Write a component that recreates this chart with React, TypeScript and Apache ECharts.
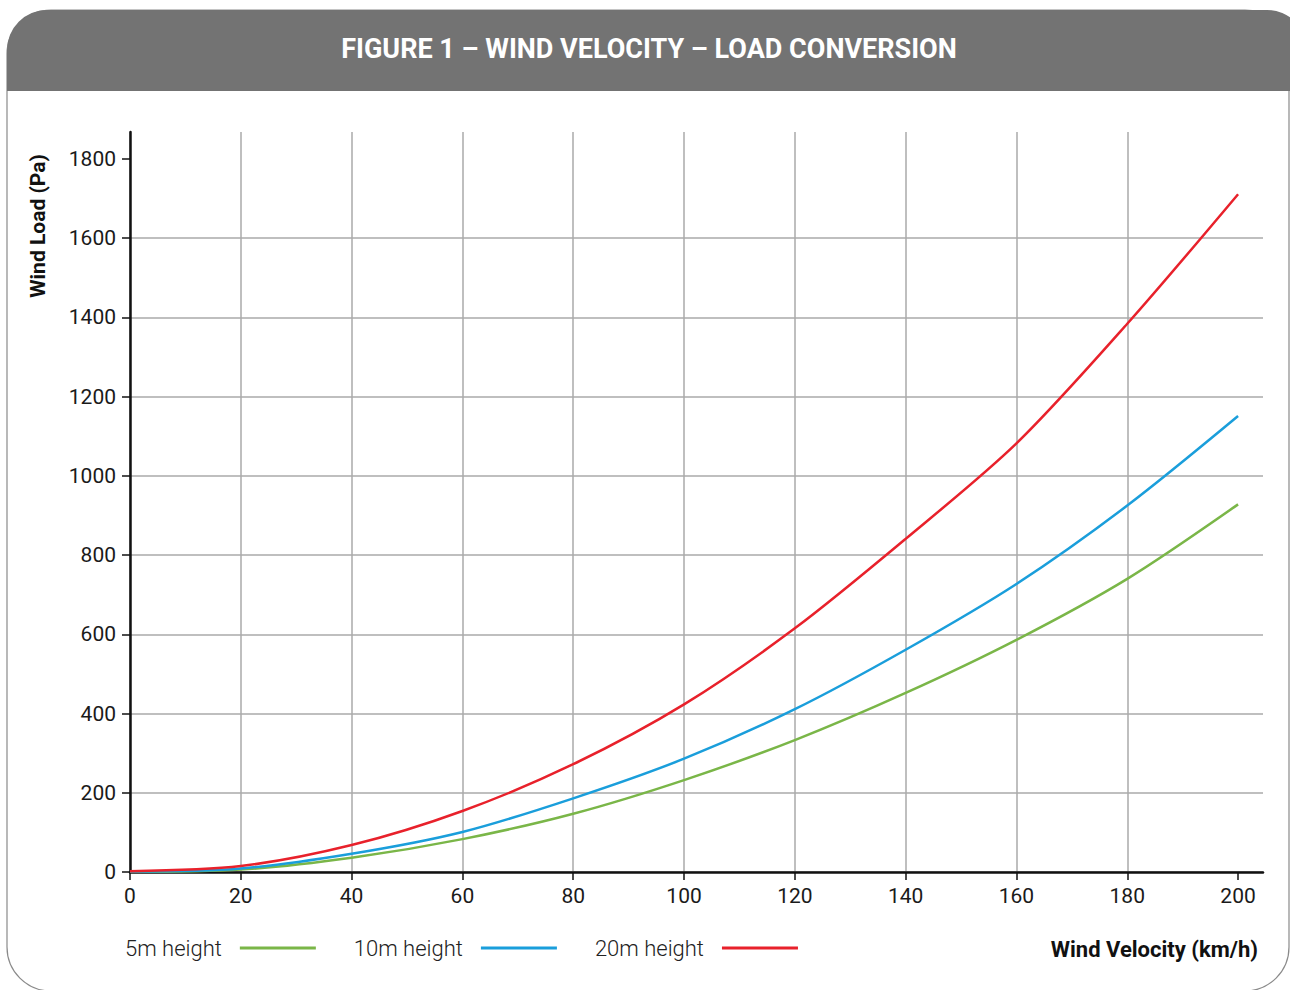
import React, { useEffect, useRef } from "react";
import * as echarts from "echarts";

const velocities = [0, 20, 40, 60, 80, 100, 120, 140, 160, 180, 200];
const load5m = [0, 6, 36, 83, 147, 232, 333, 452, 586, 740, 928];
const load10m = [1, 9, 46, 101, 186, 286, 411, 561, 727, 925, 1151];
const load20m = [2, 15, 68, 154, 272, 423, 615, 841, 1082, 1384, 1711];
const seriesNames = ["5m height", "10m height", "20m height"];
const xTicks = [0, 20, 40, 60, 80, 100, 120, 140, 160, 180, 200];
const yTicks = [0, 200, 400, 600, 800, 1000, 1200, 1400, 1600, 1800];

const titleText = "FIGURE 1 – WIND VELOCITY – LOAD CONVERSION";
const yName = "Wind Load (Pa)";
const xName = "Wind Velocity (km/h)";

const FONT = "Roboto, 'Noto Sans', sans-serif";

export default function App() {
  const ref = useRef<HTMLDivElement>(null);
  useEffect(() => {
    if (!ref.current) return;
    const chart = echarts.init(ref.current, null, { renderer: "svg" });
    const pair = (arr: number[]) => velocities.map((v, i) => [v, arr[i]]);
    const colors = ["#7ab648", "#1a9edb", "#e8212b"];
    const datasets = [load5m, load10m, load20m];
    chart.setOption({
      animation: false,
      backgroundColor: "#ffffff",
      textStyle: { fontFamily: FONT },
      grid: { left: 130, top: 132, right: 27, bottom: 118, containLabel: false },
      legend: {
        left: 120,
        top: 932,
        align: "right",
        icon: "rect",
        itemWidth: 76,
        itemHeight: 3,
        itemGap: 38,
        data: seriesNames,
        textStyle: {
          fontFamily: FONT,
          fontSize: 22,
          fontWeight: 300,
          color: "#222222",
          padding: [0, 13, 0, 0],
        },
      },
      xAxis: {
        type: "value",
        min: 0,
        max: 204.5,
        interval: 20,
        axisLine: { show: true, lineStyle: { color: "#111111", width: 2.5 } },
        axisTick: {
          show: true,
          customValues: xTicks,
          length: 8,
          lineStyle: { color: "#111111", width: 1.5 },
        },
        axisLabel: {
          customValues: xTicks,
          fontSize: 21,
          color: "#1a1a1a",
          margin: 13,
          fontFamily: FONT,
          formatter: (v: number) => String(v),
        },
        splitLine: {
          show: true,
          showMaxLine: false,
          lineStyle: { color: "#aaaaaa", width: 1.5 },
        },
      },
      yAxis: {
        type: "value",
        min: 0,
        max: 1868,
        interval: 200,
        axisLine: { show: true, lineStyle: { color: "#111111", width: 2.5 } },
        axisTick: {
          show: true,
          customValues: yTicks,
          length: 8,
          lineStyle: { color: "#111111", width: 1.5 },
        },
        axisLabel: {
          customValues: yTicks,
          fontSize: 21,
          color: "#1a1a1a",
          margin: 14,
          fontFamily: FONT,
          formatter: (v: number) => String(v),
        },
        splitLine: {
          show: true,
          showMaxLine: false,
          lineStyle: { color: "#aaaaaa", width: 1.5 },
        },
      },
      series: datasets.map((d, i) => ({
        name: seriesNames[i],
        type: "line",
        data: pair(d),
        showSymbol: false,
        symbol: "none",
        smooth: 0.3,
        lineStyle: { color: colors[i], width: 2.5 },
        itemStyle: { color: colors[i] },
        z: 3 + i,
      })),
      graphic: [
        {
          type: "rect",
          shape: { x: 7, y: 10, width: 1282, height: 981, r: 44 },
          style: { fill: "none", stroke: "#8a8a8a", lineWidth: 1.2 },
          z: 0,
          silent: true,
        },
        {
          type: "rect",
          shape: { x: 7, y: 10, width: 1300, height: 81, r: [40, 40, 0, 0] },
          style: { fill: "#737373" },
          z: 1,
          silent: true,
        },
        {
          type: "text",
          x: 649,
          y: 49,
          style: {
            text: titleText,
            fill: "#ffffff",
            font: "bold 27px Roboto, sans-serif",
            textAlign: "center",
            textVerticalAlign: "middle",
          },
          z: 2,
        },
        {
          type: "text",
          x: 38,
          y: 226,
          rotation: Math.PI / 2,
          style: {
            text: yName,
            fill: "#111111",
            font: "bold 21px " + FONT,
            textAlign: "center",
            textVerticalAlign: "middle",
          },
          z: 2,
        },
        {
          type: "text",
          x: 1258,
          y: 949,
          style: {
            text: xName,
            fill: "#111111",
            font: "bold 22px " + FONT,
            textAlign: "right",
            textVerticalAlign: "middle",
          },
          z: 2,
        },
      ],
    });
    return () => chart.dispose();
  }, []);
  return (
    <div
      ref={ref}
      style={{ position: "absolute", left: 0, top: 0, width: 1290, height: 990 }}
    />
  );
}
